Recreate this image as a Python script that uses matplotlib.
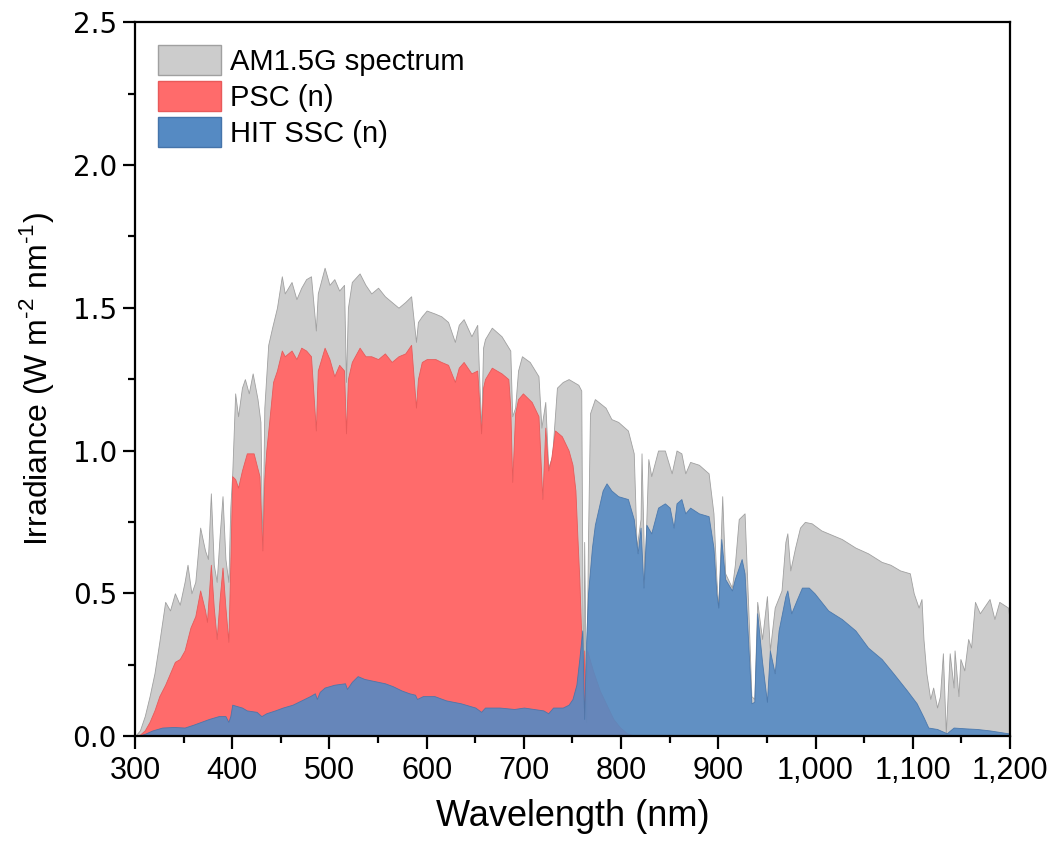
import numpy as np
import matplotlib
matplotlib.use('Agg')
import matplotlib.pyplot as plt
from matplotlib.patches import Patch
from matplotlib.ticker import MultipleLocator, FuncFormatter

# AM1.5G reference spectrum
wl_am = [300, 305, 310, 315, 320, 325, 328, 331, 336, 341, 346, 351, 354, 358, 362, 367, 372, 375, 378,
         381, 384, 387, 390, 393, 396, 398, 400, 403, 406, 410, 413, 417, 421, 426, 429, 431, 433, 437,
         441, 446, 451, 454, 461, 466, 471, 476, 481, 486, 488, 495, 500, 505, 510, 515, 517, 519, 523,
         531, 537, 543, 550, 557, 564, 571, 578, 584, 589, 591, 595, 600, 608, 615, 622, 629, 633, 638,
         646, 652, 656, 658, 660, 667, 677, 686, 688, 691, 694, 698, 706, 715, 718, 722, 725, 729, 734,
         740, 746, 756, 759, 761, 762, 764, 766, 768, 773, 784, 790, 797, 807, 813, 816, 820, 821, 824,
         828, 831, 838, 845, 852, 857, 862, 866, 871, 880, 890, 895, 898, 900, 904, 907, 914, 917, 921,
         927, 931, 934, 937, 940, 945, 950, 953, 958, 965, 969, 971, 974, 979, 984, 989, 996, 1006, 1013,
         1027, 1041, 1054, 1068, 1077, 1087, 1097, 1101, 1106, 1109, 1111, 1114, 1118, 1121, 1125, 1128,
         1131, 1134, 1138, 1142, 1143, 1147, 1149, 1153, 1157, 1160, 1164, 1169, 1179, 1184, 1189, 1198, 1200]
am15g = [0.0, 0.02, 0.07, 0.14, 0.22, 0.33, 0.40, 0.47, 0.44, 0.50, 0.46, 0.54, 0.60, 0.50, 0.54, 0.73, 0.65, 0.62, 0.85,
         0.60, 0.54, 0.70, 0.84, 0.62, 0.54, 0.80, 0.92, 1.20, 1.12, 1.22, 1.25, 1.20, 1.27, 1.18, 1.10, 0.65, 1.15, 1.37,
         1.43, 1.50, 1.61, 1.55, 1.59, 1.53, 1.57, 1.60, 1.61, 1.42, 1.55, 1.64, 1.58, 1.60, 1.56, 1.58, 1.24, 1.50, 1.59,
         1.62, 1.58, 1.55, 1.57, 1.54, 1.52, 1.50, 1.52, 1.54, 1.38, 1.45, 1.47, 1.49, 1.48, 1.47, 1.45, 1.38, 1.44, 1.46,
         1.40, 1.44, 1.07, 1.36, 1.39, 1.43, 1.40, 1.35, 1.12, 1.15, 1.28, 1.33, 1.31, 1.26, 1.08, 1.17, 0.94, 0.98, 1.22,
         1.24, 1.25, 1.23, 1.21, 0.07, 0.68, 0.10, 0.70, 1.13, 1.18, 1.15, 1.11, 1.10, 1.07, 0.99, 0.66, 0.76, 0.99, 0.55,
         0.97, 0.91, 1.00, 1.00, 0.92, 1.00, 0.99, 0.92, 0.96, 0.95, 0.92, 0.78, 0.55, 0.45, 0.84, 0.57, 0.52, 0.60, 0.76,
         0.78, 0.43, 0.14, 0.13, 0.47, 0.34, 0.49, 0.30, 0.45, 0.51, 0.68, 0.71, 0.58, 0.66, 0.73, 0.75, 0.745, 0.72, 0.71,
         0.69, 0.66, 0.64, 0.61, 0.60, 0.58, 0.57, 0.50, 0.45, 0.48, 0.34, 0.22, 0.13, 0.17, 0.10, 0.14,
         0.29, 0.01, 0.29, 0.17, 0.30, 0.14, 0.27, 0.23, 0.34, 0.31, 0.47, 0.43, 0.48, 0.41, 0.47, 0.45, 0.40]

# perovskite top cell (PSC)
wl_psc = [300, 305, 310, 315, 320, 325, 331, 336, 341, 346, 351, 357, 362, 367, 372, 374, 378, 381, 384, 387,
          390, 393, 396, 398, 400, 403, 406, 410, 415, 422, 428, 431, 433, 435, 438, 442, 446, 451, 454, 461,
          466, 471, 476, 481, 486, 488, 495, 500, 505, 510, 515, 517, 519, 523, 531, 537, 543, 550, 557, 564,
          571, 578, 584, 589, 591, 595, 600, 609, 615, 622, 629, 633, 638, 646, 652, 656, 658, 660, 667, 677,
          684, 686, 688, 691, 694, 699, 708, 715, 719, 722, 725, 728, 732, 739, 746, 750, 753, 755, 757, 759,
          761, 762, 764, 765, 771, 778, 785, 792, 799, 806, 815, 1200]
psc = [0.0, 0.005, 0.02, 0.05, 0.09, 0.14, 0.18, 0.22, 0.26, 0.27, 0.30, 0.38, 0.42, 0.51, 0.44, 0.40, 0.60, 0.45, 0.34, 0.48,
       0.59, 0.45, 0.33, 0.60, 0.91, 0.90, 0.87, 0.93, 0.99, 0.99, 0.91, 0.65, 0.90, 1.00, 1.10, 1.24, 1.28, 1.35, 1.33, 1.35,
       1.32, 1.36, 1.35, 1.33, 1.07, 1.28, 1.36, 1.32, 1.26, 1.30, 1.28, 1.06, 1.25, 1.31, 1.36, 1.33, 1.33, 1.32, 1.34, 1.31,
       1.33, 1.34, 1.37, 1.15, 1.25, 1.31, 1.32, 1.32, 1.31, 1.30, 1.24, 1.29, 1.31, 1.27, 1.28, 1.06, 1.22, 1.25, 1.29, 1.27,
       1.25, 1.15, 0.89, 1.13, 1.18, 1.20, 1.17, 1.12, 0.83, 1.08, 0.93, 0.97, 1.07, 1.05, 1.00, 0.95, 0.86, 0.70, 0.55, 0.35,
       0.10, 0.30, 0.05, 0.30, 0.23, 0.16, 0.11, 0.06, 0.03, 0.01, 0.0, 0.0]

# silicon heterojunction bottom cell (HIT SSC)
wl_hit = [300, 305, 310, 318, 328, 340, 351, 360, 368, 376, 386, 393, 396, 398, 400, 410, 415, 425, 430, 435,
          444, 452, 462, 471, 480, 485, 487, 490, 495, 505, 516, 518, 523, 529, 536, 543, 550, 557, 565, 574,
          582, 588, 590, 596, 608, 620, 635, 650, 656, 660, 675, 690, 700, 720, 725, 730, 740, 746, 750, 754,
          757, 760, 762, 764, 766, 770, 773, 777, 781, 785, 790, 797, 807, 813, 817, 820, 823, 826, 831, 838,
          845, 850, 854, 857, 862, 866, 871, 880, 890, 895, 898, 900, 903, 907, 914, 917, 924, 927, 931, 934,
          937, 940, 945, 950, 953, 958, 962, 969, 971, 975, 981, 986, 993, 999, 1006, 1013, 1027, 1041, 1054, 1068,
          1080, 1094, 1104, 1111, 1116, 1125, 1135, 1142, 1155, 1166, 1179, 1198, 1200]
hit = [0.0, 0.003, 0.008, 0.02, 0.03, 0.032, 0.03, 0.04, 0.05, 0.06, 0.07, 0.07, 0.05, 0.07, 0.11, 0.10, 0.09, 0.085, 0.07, 0.08,
       0.09, 0.10, 0.11, 0.125, 0.14, 0.15, 0.13, 0.155, 0.17, 0.18, 0.185, 0.165, 0.19, 0.21, 0.20, 0.195, 0.19, 0.185, 0.175, 0.16,
       0.15, 0.145, 0.13, 0.14, 0.14, 0.125, 0.115, 0.10, 0.085, 0.10, 0.10, 0.095, 0.10, 0.09, 0.08, 0.10, 0.10, 0.11, 0.13, 0.18,
       0.27, 0.37, 0.06, 0.33, 0.50, 0.66, 0.74, 0.80, 0.86, 0.885, 0.86, 0.84, 0.83, 0.76, 0.64, 0.73, 0.52, 0.74, 0.71, 0.80,
       0.815, 0.80, 0.73, 0.815, 0.83, 0.78, 0.80, 0.78, 0.77, 0.66, 0.50, 0.45, 0.69, 0.55, 0.51, 0.55, 0.62, 0.57, 0.31, 0.115,
       0.12, 0.43, 0.26, 0.12, 0.30, 0.22, 0.37, 0.49, 0.51, 0.43, 0.48, 0.52, 0.52, 0.50, 0.47, 0.44, 0.41, 0.37, 0.31, 0.27,
       0.22, 0.16, 0.115, 0.067, 0.03, 0.025, 0.01, 0.03, 0.027, 0.025, 0.02, 0.01, 0.01]

grey, grey_edge = '#CCCCCC', '#A0A0A0'
red, red_edge = '#FF6B6B', '#E85A5A'
blue, blue_edge = '#558AC3', '#4574AA'

plt.rcParams['font.family'] = ['Liberation Sans', 'DejaVu Sans']
plt.rcParams['mathtext.fontset'] = 'custom'
plt.rcParams['mathtext.rm'] = 'Liberation Sans'

fig = plt.figure(figsize=(10.59, 8.5), dpi=100)
ax = fig.add_axes([0.1275, 0.134, 0.8262, 0.840])

ax.fill_between(wl_am, am15g, 0, facecolor=grey, edgecolor=grey_edge, linewidth=0.6)
ax.fill_between(wl_psc, psc, 0, facecolor=red, edgecolor=red_edge, linewidth=0.6)
ax.fill_between(wl_hit, hit, 0, facecolor=blue, edgecolor=blue_edge, linewidth=0.6, alpha=0.9)

ax.set_xlim(300, 1200)
ax.set_ylim(0, 2.5)
ax.xaxis.set_major_locator(MultipleLocator(100))
ax.xaxis.set_minor_locator(MultipleLocator(50))
ax.yaxis.set_major_locator(MultipleLocator(0.5))
ax.yaxis.set_minor_locator(MultipleLocator(0.25))
ax.xaxis.set_major_formatter(FuncFormatter(lambda v, p: f'{v:,.0f}'))
ax.yaxis.set_major_formatter(FuncFormatter(lambda v, p: f'{v:.1f}'))

for s in ax.spines.values():
    s.set_linewidth(1.6)
ax.tick_params(which='both', direction='out', width=1.6, top=False, right=False)
ax.tick_params(which='major', length=9)
ax.tick_params(which='minor', length=5)
ax.tick_params(axis='x', labelsize=22, pad=5)
ax.tick_params(axis='y', labelsize=20, pad=4)
for lab in ax.get_yticklabels():
    lab.set_fontfamily('DejaVu Sans')

ax.set_xlabel('Wavelength (nm)', fontsize=26, labelpad=10)
ax.set_ylabel(r'Irradiance (W m$^{\text{-2}}$ nm$^{\text{-1}}$)', fontsize=23, labelpad=12)

handles = [Patch(facecolor=grey, edgecolor=grey_edge, label='AM1.5G spectrum'),
           Patch(facecolor=red, edgecolor=red_edge, label='PSC (n)'),
           Patch(facecolor=blue, edgecolor=blue_edge, label='HIT SSC (n)')]
ax.legend(handles=handles, loc='upper left', frameon=False, fontsize=21,
          handlelength=2.15, handleheight=1.2, labelspacing=0.17, handletextpad=0.3,
          borderaxespad=0.5, borderpad=0.3)

fig.savefig('out.png', dpi=100)
